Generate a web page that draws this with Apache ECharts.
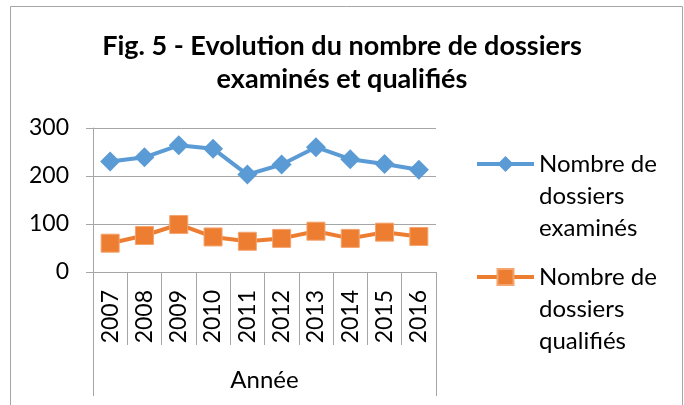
<!DOCTYPE html>
<html><head><meta charset="utf-8">
<script src="https://cdn.jsdelivr.net/npm/echarts@6/dist/echarts.min.js"></script>
<style>html,body{margin:0;padding:0;background:#fff}#c{width:684px;height:405px}</style>
</head><body><div id="c"></div>
<script>
const years = ['2007','2008','2009','2010','2011','2012','2013','2014','2015','2016'];
const examines = [230, 239, 264, 257, 203, 224, 260, 235, 225, 213];
const qualifies = [60, 76, 99, 73, 64, 70, 85, 70, 83, 74];
const yTicks = [0, 100, 200, 300];
const groupLabel = ['Année'];
const nameA = 'Nombre de dossiers examinés';
const nameB = 'Nombre de dossiers qualifiés';
const legendLines = {};
legendLines[nameA] = ['Nombre de', 'dossiers', 'examinés'];
legendLines[nameB] = ['Nombre de', 'dossiers', 'qualifiés'];

const FONT = 'Lato';
const chart = echarts.init(document.getElementById('c'), null, {renderer:'canvas'});
const legendText = {fontFamily: FONT, fontSize: 24, color: '#000', lineHeight: 32};
const legendFmt = n => '\n\n' + legendLines[n].join('\n');
chart.setOption({
  animation: false,
  backgroundColor: '#fff',
  graphic: [{type:'rect', shape:{x:10.5, y:6.5, width:672, height:420}, style:{fill:'none', stroke:'#a6a6a6', lineWidth:1}, silent:true}],
  title: {
    text: 'Fig. 5 - Evolution du nombre de dossiers\nexaminés et qualifiés',
    left: 'center', top: 25,
    textStyle: {fontFamily: FONT, fontWeight: 'bold', fontSize: 27, lineHeight: 33, color: '#000'}
  },
  legend: [
    {data:[nameA], formatter: legendFmt, orient:'vertical', left:475, top:84, padding:0, itemWidth:57, itemHeight:20, itemGap:5, textStyle: legendText, lineStyle:{width:4}},
    {data:[nameB], formatter: legendFmt, orient:'vertical', left:475, top:197, padding:0, itemWidth:57, itemHeight:20, itemGap:5, textStyle: legendText, lineStyle:{width:4}}
  ],
  grid: {left: 93, right: 248, top: 128, bottom: 133},
  xAxis: [
    {type:'category', data: years, boundaryGap: true, position:'bottom',
     axisLine:{lineStyle:{color:'#a6a6a6'}},
     axisTick:{show:true, length:73, lineStyle:{color:'#a6a6a6'}},
     axisLabel:{rotate:90, margin:18, fontFamily:FONT, fontSize:23, color:'#000', interval:0}},
    {type:'category', data: groupLabel, boundaryGap: true, position:'bottom',
     axisLine:{show:false},
     axisTick:{show:true, length:124, lineStyle:{color:'#a6a6a6'}},
     axisLabel:{margin:96, fontFamily:FONT, fontSize:24, color:'#000'}}
  ],
  yAxis: {type:'value', min: yTicks[0], max: yTicks[yTicks.length-1], interval: 100,
    axisLine:{show:true, lineStyle:{color:'#a6a6a6'}},
    axisTick:{show:true, length:7, lineStyle:{color:'#a6a6a6'}},
    splitLine:{lineStyle:{color:'#a6a6a6'}},
    axisLabel:{margin:24, fontFamily:FONT, fontSize:23, color:'#000'}},
  series: [
    {name:nameA, type:'line', data:examines, xAxisIndex:0, color:'#5b9bd5',
     lineStyle:{width:4, color:'#5b9bd5'}, symbol:'diamond', symbolSize:20,
     itemStyle:{color:'#5b9bd5'}},
    {name:nameB, type:'line', data:qualifies, xAxisIndex:0, color:'#ed7d31',
     lineStyle:{width:4, color:'#ed7d31'}, symbol:'rect', symbolSize:18,
     itemStyle:{color:'#ed7d31', borderColor:'#f4a46f', borderWidth:1}}
  ]
});
</script></body></html>
